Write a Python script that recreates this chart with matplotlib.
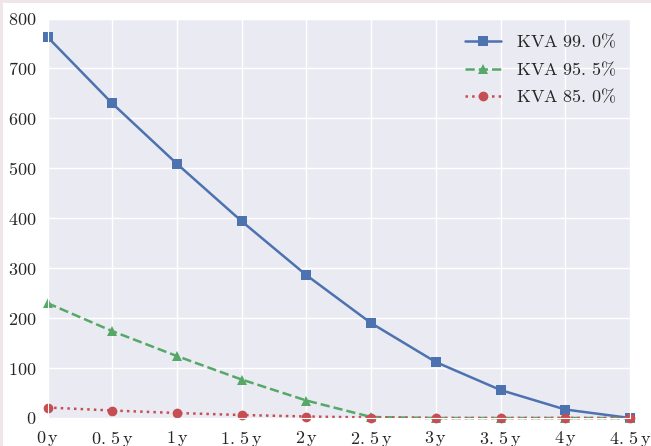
import matplotlib
matplotlib.use("Agg")
import matplotlib.pyplot as plt
from matplotlib.patches import Rectangle
import seaborn as sns

# years ahead
years = [0, 0.5, 1, 1.5, 2, 2.5, 3, 3.5, 4, 4.5]
year_labels = ["0", "0.5", "1", "1.5", "2", "2.5", "3", "3.5", "4", "4.5"]

kva_990 = [763, 630, 509, 394, 286, 190, 112, 56, 17, 0]
kva_955 = [230, 174, 124, 77, 35, 2, 0, 0, 0, 0]
kva_850 = [21, 15, 10, 6, 3, 1, 0, 0, 0, 0]
series_names = ["99.0", "95.5", "85.0"]

y_ticks = [0, 100, 200, 300, 400, 500, 600, 700, 800]

sns.set_style("darkgrid")
plt.rcParams["mathtext.fontset"] = "cm"
plt.rcParams["font.family"] = ["serif"]
plt.rcParams["font.serif"] = ["cmr10", "DejaVu Serif"]

blue, green, red = "#4C72B0", "#55A868", "#C44E52"


def spaced(s):
    # the original labels have a thin gap after the decimal point
    return s.replace(".", r".\,")


fig = plt.figure(figsize=(6.51, 4.46), dpi=100)
fig.patch.set_facecolor("#F0E6EA")
fig.patches.append(Rectangle((3 / 651, 0), 1, 1 - 3 / 446, transform=fig.transFigure,
                             facecolor="white", edgecolor="none", zorder=-1))
ax = fig.add_axes([47.5 / 651, 28 / 446, (630 - 47.5) / 651, (418 - 18.5) / 446])

labels = [r"$\mathrm{KVA\ %s\%%}$" % spaced(n) for n in series_names]
ax.plot(years, kva_990, color=blue, linestyle="-", marker="s", markersize=6.5,
        markeredgewidth=0, linewidth=1.8, label=labels[0], clip_on=False)
ax.plot(years, kva_955, color=green, linestyle="--", marker="^", markersize=6.5,
        markeredgewidth=0, linewidth=1.8, label=labels[1], clip_on=False)
ax.plot(years, kva_850, color=red, linestyle=":", marker="o", markersize=7,
        markeredgewidth=0, linewidth=1.8, label=labels[2], clip_on=False)

ax.set_xlim(0, 4.5)
ax.set_ylim(0, 800)
ax.set_xticks(years)
ax.set_xticklabels([r"$%s\,\mathrm{y}$" % spaced(s) for s in year_labels], fontsize=13)
ax.set_yticks(y_ticks)
ax.set_yticklabels([r"$%d$" % v for v in y_ticks], fontsize=13)
ax.tick_params(axis="both", length=0, pad=8)
ax.grid(color="white", linewidth=1)

ax.legend(loc="upper right", fontsize=13, frameon=False, handlelength=2.0,
          handletextpad=0.85, labelspacing=0.5, borderaxespad=0.35)

fig.savefig("out.png", dpi=100)
